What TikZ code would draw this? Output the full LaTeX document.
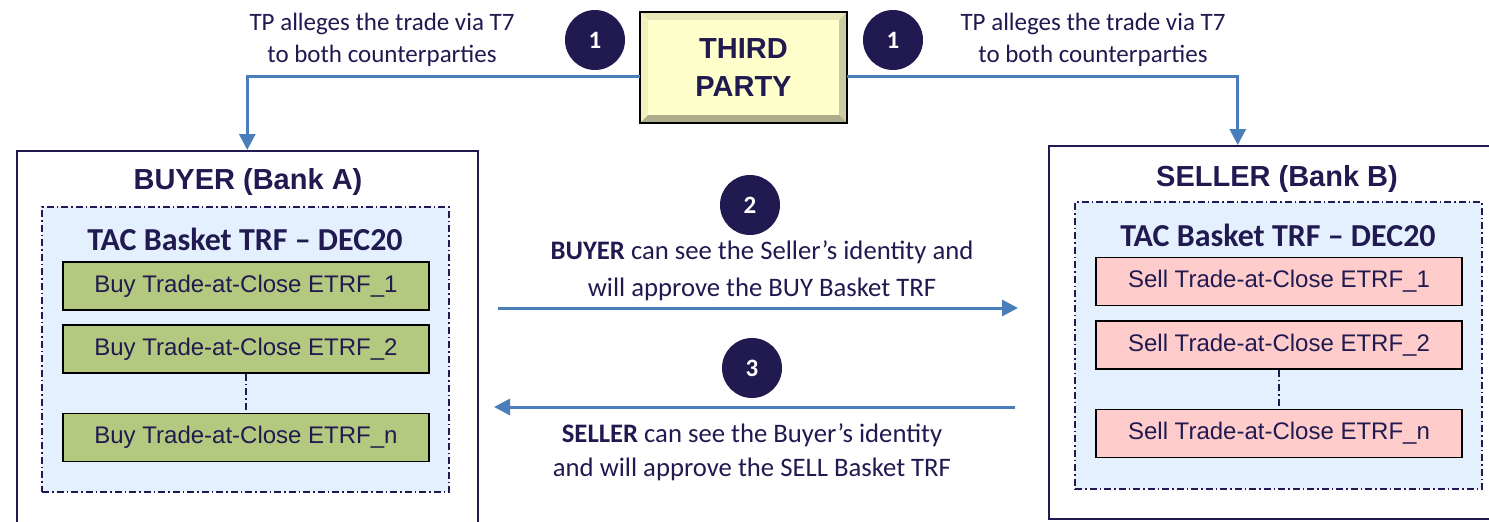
\documentclass[tikz,border=0pt]{standalone}
\usepackage{fontspec}
\setmainfont{Liberation Sans}
\newfontfamily\calib{Carlito}
\usetikzlibrary{arrows.meta}
\definecolor{navy}{RGB}{32,26,80}
\definecolor{flowblue}{RGB}{74,126,187}
\definecolor{buygreen}{RGB}{179,201,127}
\definecolor{sellpink}{RGB}{255,204,204}
\definecolor{basketblue}{RGB}{228,240,253}
\definecolor{tpyellow}{RGB}{255,255,204}
\tikzset{
	stepnum/.style={circle, fill=navy, text=white, minimum size=60pt, inner sep=0pt, font=\calib\bfseries\fontsize{25}{25}\selectfont},
	trade/.style={draw=black, line width=1.6pt, minimum width=366pt, minimum height=48pt, inner sep=0pt, text=navy, font=\fontsize{24}{25}\selectfont},
	basket/.style={draw=navy, line width=1.3pt, dash pattern=on 7pt off 3pt on 1.5pt off 3pt, fill=basketblue, minimum width=407pt, inner sep=0pt},
	bank/.style={draw=navy, line width=1.5pt, fill=white, inner sep=0pt, anchor=north west},
	banktitle/.style={text=navy, font=\bfseries\fontsize{29}{30}\selectfont},
	baskettitle/.style={text=navy, font=\calib\bfseries\fontsize{32}{33}\selectfont},
	note/.style={text=navy, align=center, font=\calib\fontsize{25}{32}\selectfont},
	flow/.style={draw=flowblue, line width=3pt, -{Triangle[length=16pt,width=16pt]}},
	dots/.style={draw=navy, line width=1.5pt, dash pattern=on 7pt off 3pt on 1.5pt off 3pt}
}

\begin{document}
\begin{tikzpicture}[x=1pt, y=-1pt]
		%%%%% FRAME %%%%%
		\clip (0, 0) rectangle (1489, 522);
		\fill[white] (0, 0) rectangle (1489, 522);
		
		%%%%% THIRD PARTY %%%%%
		\node[fill=tpyellow, minimum width=207pt, minimum height=111pt, inner sep=0pt, align=center, text=navy, font=\bfseries\fontsize{29}{38}\selectfont] (tp) at (743.5, 67.5) {THIRD\\PARTY};
		\fill[tpyellow!90!black] (tp.north west) -- (tp.north east) -- ([shift={(-8,8)}]tp.north east) -- ([shift={(8,8)}]tp.north west) -- cycle;
		\fill[tpyellow!94!black] (tp.north west) -- (tp.south west) -- ([shift={(8,-8)}]tp.south west) -- ([shift={(8,8)}]tp.north west) -- cycle;
		\fill[tpyellow!80!black] (tp.north east) -- (tp.south east) -- ([shift={(-8,-8)}]tp.south east) -- ([shift={(-8,8)}]tp.north east) -- cycle;
		\fill[tpyellow!68!black] (tp.south west) -- (tp.south east) -- ([shift={(-8,-8)}]tp.south east) -- ([shift={(8,-8)}]tp.south west) -- cycle;
		\draw[line width=2.5pt] (tp.north west) rectangle (tp.south east);
		\node[stepnum] (n1a) at (595, 40) {1};
		\node[stepnum] (n1b) at (893, 40) {1};
		\node[note] (allegeA) at (382, 40) {TP alleges the trade via T7\\to both counterparties};
		\node[note] (allegeB) at (1093, 40) {TP alleges the trade via T7\\to both counterparties};
		
		%%%%% BUYER %%%%%
		\node[bank, minimum width=461pt, minimum height=420pt] (buyer) at (16, 150) {};
		\node[banktitle] (buyerT) at (248, 182) {BUYER (Bank A)};
		\node[basket, minimum height=285pt] (buyB) at (245.5, 349.5) {};
		\node[baskettitle] (buyBT) at (245, 239) {TAC Basket TRF – DEC20};
		\node[trade, fill=buygreen] (buy1) at (246, 286) {Buy Trade-at-Close ETRF\_1};
		\node[trade, fill=buygreen] (buy2) at (246, 349) {Buy Trade-at-Close ETRF\_2};
		\node[trade, fill=buygreen] (buyn) at (246, 437.5) {Buy Trade-at-Close ETRF\_n};
		\draw[dots] (buy2) -- (buyn);
		
		%%%%% SELLER %%%%%
		\node[bank, minimum width=452pt, minimum height=373pt] (seller) at (1048, 145) {};
		\node[banktitle] (sellerT) at (1277, 179) {SELLER (Bank B)};
		\node[basket, minimum height=287pt] (sellB) at (1278.5, 345.5) {};
		\node[baskettitle] (sellBT) at (1278, 235) {TAC Basket TRF – DEC20};
		\node[trade, fill=sellpink] (sell1) at (1279, 281.5) {Sell Trade-at-Close ETRF\_1};
		\node[trade, fill=sellpink] (sell2) at (1279, 345) {Sell Trade-at-Close ETRF\_2};
		\node[trade, fill=sellpink] (selln) at (1279, 433.5) {Sell Trade-at-Close ETRF\_n};
		\draw[dots] (sell2) -- (selln);
		
		%%%%% ALLEGE %%%%%
		\draw[flow] ([yshift=-9pt]tp.west) -| (buyer.north);
		\draw[flow] ([yshift=-9pt]tp.east) -| ([xshift=-37pt]seller.north);
		
		%%%%% APPROVE %%%%%
		\coordinate (buyout) at (498, 308);
		\coordinate (sellin) at (1018, 308);
		\coordinate (sellout) at (1015, 407);
		\coordinate (buyin) at (494, 407);
		\node[stepnum] (n2) at (750, 205) {2};
		\node[note, font=\calib\fontsize{26.7}{37}\selectfont] (approveB) at (762, 271) {\textbf{BUYER} can see the Seller’s identity and\\will approve the BUY Basket TRF};
		\draw[flow] (buyout) -- (sellin);
		\node[stepnum] (n3) at (752, 368) {3};
		\draw[flow] (sellout) -- (buyin);
		\node[note, font=\calib\fontsize{26.7}{34}\selectfont] (approveS) at (752, 452) {\textbf{SELLER} can see the Buyer’s identity\\and will approve the SELL Basket TRF};
		%%%%% END %%%%%
	\end{tikzpicture}
\end{document}
